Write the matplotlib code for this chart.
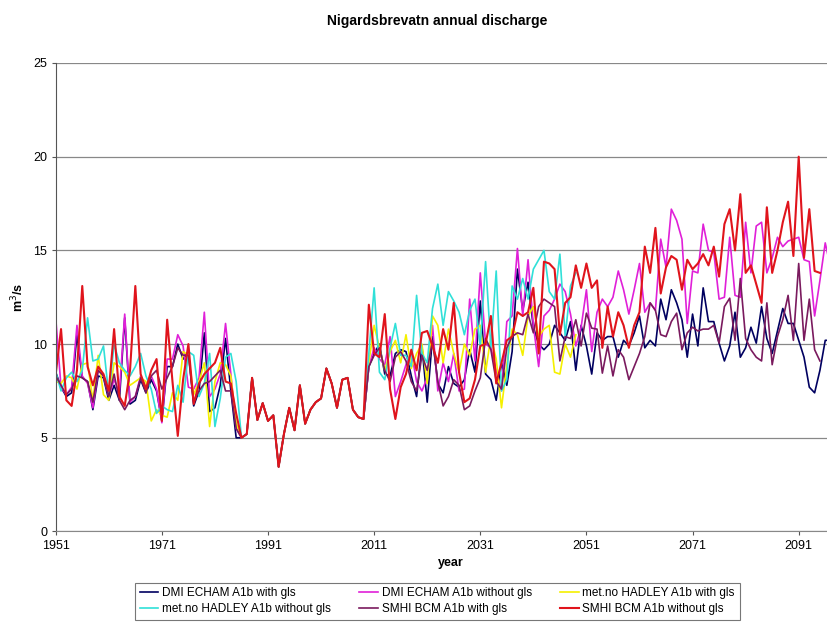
import numpy as np
import matplotlib
matplotlib.use("Agg")
import matplotlib.pyplot as plt

plt.rcParams['font.family'] = ['Liberation Sans', 'DejaVu Sans']

# years: control 1951-1985, common reference 1986-2009, scenarios from 2010
ctrl_years = np.arange(1951, 1986)
obs_years = np.arange(1986, 2010)

# common part, identical for all runs
obs = [5.0, 5.2, 8.2, 5.95, 6.85, 5.9, 6.2, 3.45, 5.2, 6.6, 5.4, 7.8, 5.75, 6.5,
       6.9, 7.1, 8.7, 7.9, 6.6, 8.1, 8.2, 6.5, 6.1, 6.0]

# DMI ECHAM A1b with gls
dmi_with_ctrl = [8.5, 7.7, 7.2, 7.4, 10.5, 8.2, 8.0, 6.5, 8.3, 8.2, 7.0, 7.8, 7.0, 11.4, 6.8,
                 7.0, 8.1, 7.4, 8.1, 7.5, 5.9, 8.8, 8.8, 10.0, 9.2, 9.6, 6.7, 7.5, 10.6, 6.4,
                 6.6, 7.8, 10.3, 7.5, 5.0]
dmi_with_scen = [8.8, 9.5, 10.0, 8.4, 8.3, 9.5, 9.7, 9.6, 8.3, 7.2, 9.9, 6.9, 10.4, 7.9, 7.4,
                 8.8, 7.9, 7.7, 8.1, 9.7,
                 8.5, 12.3, 8.4, 8.1, 7.0, 9.0, 7.8, 9.6, 14.0, 11.8, 13.3, 10.9, 10.0,
                 9.7, 10.0, 11.0, 10.6, 10.2, 11.2, 8.6, 11.0,
                 9.9, 8.4, 10.6, 10.2, 10.4, 10.4, 9.3, 10.2, 9.9, 10.6, 11.5, 9.8, 10.2, 9.9,
                 12.4, 11.3, 12.9, 12.2, 11.3, 9.3, 11.6, 9.9,
                 13.0, 11.2, 11.2, 10.05, 9.1, 9.9, 11.7, 9.3, 9.8, 10.9, 10.05, 12.0, 10.3,
                 9.5, 10.7, 11.9, 11.1, 11.1, 10.2, 9.3, 7.7, 7.4, 8.6, 10.2, 10.2, 9.2]

# DMI ECHAM A1b without gls
dmi_without_ctrl = [11.4, 7.7, 7.3, 7.7, 11.0, 8.3, 7.9, 6.6, 8.6, 8.3, 7.2, 8.1, 7.4, 11.6,
                    6.9, 7.2, 8.3, 7.7, 8.3, 7.6, 5.8, 9.2, 9.2, 10.5, 9.9, 7.7, 7.6, 8.2,
                    11.7, 7.2, 7.6, 8.4, 11.1, 8.4, 5.5]
dmi_without_scen = [8.8, 9.8, 9.2, 8.9, 10.4, 7.2, 8.0, 8.9, 9.6, 8.0, 7.5, 8.2, 11.0, 7.5,
                    9.0, 8.0, 9.5, 7.5, 7.6, 12.4,
                    9.1, 13.8, 10.0, 9.8, 8.6, 7.5, 11.2, 11.5, 15.1, 11.5, 14.5, 11.0, 8.8,
                    11.5, 11.8, 12.4, 13.2, 12.8, 11.6, 9.9, 10.9,
                    12.9, 9.6, 11.7, 12.4, 12.0, 12.5, 13.9, 12.9, 11.6, 12.9, 14.3, 11.7,
                    12.2, 11.8, 15.6, 14.1, 17.2, 16.6, 15.6, 11.1, 13.9, 13.8,
                    16.4, 15.0, 14.9, 12.4, 12.5, 15.7, 12.6, 12.5, 16.5, 13.8, 16.3, 16.5,
                    13.8, 14.6, 15.7, 15.2, 15.5, 15.6, 15.7, 14.5, 14.4, 11.5, 13.4, 15.4,
                    14.1, 12.5]

# met.no HADLEY A1b with gls
hadley_with_ctrl = [8.0, 7.9, 8.3, 8.2, 7.6, 8.9, 9.0, 7.0, 9.4, 7.3, 7.0, 9.0, 8.8, 8.5, 7.8,
                    8.0, 8.2, 8.0, 5.9, 6.5, 6.2, 6.1, 7.4, 7.0, 9.6, 9.4, 7.3, 8.0, 9.0, 5.6,
                    8.0, 9.0, 8.9, 8.3, 5.8]
hadley_with_scen = [9.0, 11.0, 9.8, 8.6, 9.6, 10.2, 9.0, 10.5, 8.7, 9.5, 10.0, 7.9, 11.5, 11.0,
                    9.0, 10.8, 9.5, 8.5, 10.0, 9.4,
                    10.8, 11.0, 8.5, 10.4, 9.2, 6.6, 8.9, 10.8, 10.5, 9.4, 11.5, 12.0, 10.4,
                    10.8, 11.0, 8.5, 8.4, 10.0, 9.3, 10.5]

# met.no HADLEY A1b without gls
hadley_without_ctrl = [8.5, 7.5, 8.2, 8.5, 8.0, 8.6, 11.4, 9.1, 9.2, 9.9, 7.3, 10.0, 9.0, 8.6,
                       8.3, 8.8, 9.5, 8.3, 7.6, 6.3, 6.7, 6.5, 6.4, 7.8, 6.9, 9.6, 9.4, 7.2,
                       7.9, 9.5, 5.6, 7.1, 9.3, 9.5, 8.0]
hadley_without_scen = [9.5, 13.0, 8.5, 8.1, 9.8, 11.1, 9.4, 9.4, 8.8, 12.6, 9.5, 9.0, 11.9,
                       13.2, 11.0, 12.8, 12.3, 11.7, 10.5, 11.8,
                       12.4, 9.9, 14.4, 9.8, 13.9, 7.5, 8.1, 13.1, 12.4, 13.5, 12.4, 14.0,
                       14.5, 15.0, 12.8, 12.4, 14.8, 10.4, 13.1, 13.8]

# SMHI BCM A1b with gls
smhi_with_ctrl = [8.3, 7.8, 7.3, 7.6, 8.3, 8.2, 8.0, 6.9, 8.6, 8.3, 7.2, 8.4, 7.0, 6.5, 7.0,
                  7.2, 8.2, 7.4, 8.3, 8.6, 7.6, 8.2, 8.8, 9.8, 9.4, 9.4, 6.9, 7.5, 7.9, 8.0,
                  8.3, 8.6, 7.5, 7.5, 5.5]
smhi_with_scen = [8.8, 9.4, 9.8, 8.6, 8.0, 9.3, 9.6, 9.1, 8.0, 7.5, 9.4, 8.6, 10.2, 8.0, 6.7,
                  7.2, 8.1, 7.8, 6.5, 6.7,
                  7.5, 8.2, 10.3, 9.7, 8.0, 7.6, 9.8, 10.4, 10.6, 10.5, 11.6, 10.6, 12.0,
                  12.4, 12.2, 12.0, 9.1, 10.4, 10.3, 11.3, 9.9,
                  11.65, 10.85, 10.8, 8.45, 9.9, 8.3, 9.7, 9.3, 8.1, 8.8, 9.5, 10.4, 12.2,
                  11.8, 10.5, 10.4, 11.2, 11.65, 9.7, 10.6, 10.9, 10.7,
                  10.8, 10.8, 11.0, 10.05, 12.0, 12.45, 10.2, 13.5, 10.3, 9.7, 9.3, 9.1,
                  12.2, 8.9, 10.4, 11.3, 12.6, 10.2, 14.3, 10.2, 12.4, 9.7, 9.1]

# SMHI BCM A1b without gls
smhi_without_ctrl = [8.4, 10.8, 7.0, 6.7, 8.6, 13.1, 8.8, 7.8, 8.8, 8.4, 7.5, 10.8, 7.2, 6.7,
                     8.6, 13.1, 8.4, 7.6, 8.6, 9.2, 5.9, 11.3, 8.0, 5.1, 8.1, 10.0, 6.8, 7.9,
                     8.4, 8.7, 9.0, 9.8, 8.0, 7.9, 6.3]
smhi_without_scen = [12.1, 9.5, 9.3, 11.6, 7.6, 6.0, 7.7, 8.4, 9.7, 8.6, 10.6, 10.7, 9.9, 9.0,
                     10.8, 9.7, 12.2, 8.5, 6.9, 7.1,
                     8.1, 9.9, 10.0, 11.5, 7.9, 9.0, 10.2, 10.4, 11.7, 11.5, 11.7, 13.0, 9.5,
                     14.4, 14.3, 14.0, 10.5, 12.2, 12.5, 14.2, 13.0,
                     14.3, 13.0, 13.4, 9.8, 12.0, 10.4, 11.7, 11.0, 9.8, 11.0, 11.7, 15.2,
                     13.8, 16.2, 12.7, 14.1, 14.7, 14.5, 12.9, 14.5, 14.0, 14.3,
                     14.8, 14.2, 15.2, 13.6, 16.4, 17.2, 15.0, 18.0, 13.8, 14.2, 13.2, 12.2,
                     17.3, 13.8, 15.0, 16.5, 17.6, 14.7, 20.0, 14.6, 17.2, 13.9, 13.8]

labels = ["DMI ECHAM A1b with gls", "DMI ECHAM A1b without gls",
          "met.no HADLEY A1b with gls", "met.no HADLEY A1b without gls",
          "SMHI BCM A1b with gls", "SMHI BCM A1b without gls"]
colors = ["#000060", "#E020D8", "#F5F000", "#30E0D8", "#7A1A5E", "#E0141C"]
ctrl = [dmi_with_ctrl, dmi_without_ctrl, hadley_with_ctrl, hadley_without_ctrl,
        smhi_with_ctrl, smhi_without_ctrl]
scen = [dmi_with_scen, dmi_without_scen, hadley_with_scen, hadley_without_scen,
        smhi_with_scen, smhi_without_scen]

fig = plt.figure(figsize=(8.28, 6.23), dpi=100)
# axes runs past the right edge like in the cropped original
ax = fig.add_axes([0.0673, 0.1469, 0.955, 0.752])

lines = []
for lab, col, c, s in zip(labels, colors, ctrl, scen):
    vals = list(c) + obs + list(s)
    yrs = np.arange(1951, 1951 + len(vals))
    lw = 1.5 if col == "#E0141C" else 1.2
    ln, = ax.plot(yrs, vals, color=col, lw=lw, label=lab)
    lines.append(ln)

ax.set_xlim(1951, 2100)
ax.set_ylim(0, 25)
ax.set_xticks(np.arange(1951, 2100, 20))
ax.set_yticks(np.arange(0, 26, 5))
ax.yaxis.grid(True, color="#888888", lw=0.9)
ax.set_axisbelow(True)
for side in ["top", "right"]:
    ax.spines[side].set_visible(False)
ax.spines["left"].set_color("#555555")
ax.spines["bottom"].set_color("#888888")
ax.tick_params(axis="both", labelsize=9, length=3, color="#555555", pad=3)

ax.set_xlabel("year", fontsize=9, fontweight="bold", labelpad=4)
ax.set_ylabel("m$^3$/s", fontsize=9, fontweight="bold", labelpad=5)
fig.text(0.528, 0.967, "Nigardsbrevatn annual discharge", ha="center", va="center",
         fontsize=10, fontweight="bold")

order = [0, 3, 1, 4, 2, 5]
leg = fig.legend([lines[i] for i in order], [labels[i] for i in order],
                 loc="lower center", bbox_to_anchor=(0.528, -0.004), ncol=3,
                 fontsize=8.5, frameon=True, fancybox=False, edgecolor="#555555",
                 handlelength=1.6, handletextpad=0.3, columnspacing=2.4,
                 borderpad=0.4, labelspacing=0.3)
leg.get_frame().set_linewidth(0.8)

fig.savefig("out.png", dpi=100)
